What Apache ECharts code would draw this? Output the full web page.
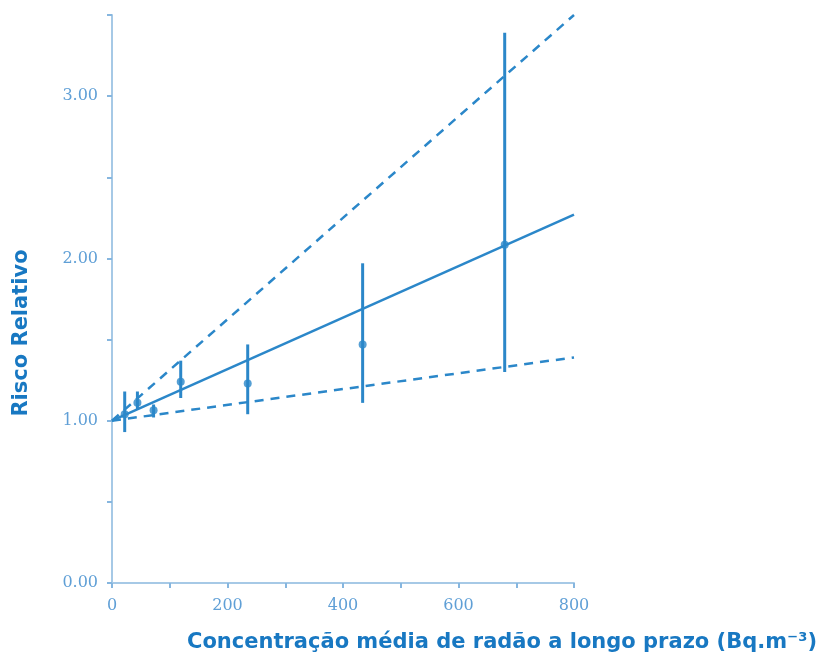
<!DOCTYPE html>
<html>
<head>
<meta charset="utf-8">
<script src="https://cdn.jsdelivr.net/npm/echarts@6/dist/echarts.min.js"></script>
<style>html,body{margin:0;padding:0;background:#fff;}#c{width:824px;height:662px;}</style>
</head>
<body>
<div id="c"></div>
<script>
// Data
var concentration = [22, 44, 72, 119, 235, 434, 680];
var riskPoint     = [1.04, 1.11, 1.065, 1.24, 1.23, 1.47, 2.085];
var riskLow       = [0.93, 1.07, 1.02, 1.14, 1.04, 1.11, 1.30];
var riskHigh      = [1.18, 1.18, 1.10, 1.37, 1.47, 1.97, 3.39];
var fitX          = [0, 800];
var fitCentral    = [1.00, 2.27];
var fitUpper      = [1.00, 3.50];
var fitLower      = [1.00, 1.39];
var xTickLabels   = [0, 200, 400, 600, 800];
var yTickLabels   = ['0.00', '1.00', '2.00', '3.00'];
var xTitle = 'Concentração média de radão a longo prazo (Bq.m⁻³)';
var yTitle = 'Risco Relativo';

var blue = '#2b87c9';
var axisBlue = '#a6c9e6';
var labelBlue = '#5f9fd6';

function pairs(xs, ys) { return xs.map(function (x, i) { return [x, ys[i]]; }); }

var chart = echarts.init(document.getElementById('c'));
chart.setOption({
  animation: false,
  grid: { left: 112, right: 250, top: 15, bottom: 79 },
  xAxis: {
    type: 'value', min: 0, max: 800, interval: 100,
    axisLine: { show: true, lineStyle: { color: axisBlue, width: 2 } },
    axisTick: { show: true, length: 5, lineStyle: { color: '#86b6df', width: 2 } },
    splitLine: { show: false },
    axisLabel: {
      margin: 15, color: labelBlue, fontFamily: 'DejaVu Serif', fontSize: 16,
      formatter: function (v) { return xTickLabels.indexOf(v) >= 0 ? String(v) : ''; }
    }
  },
  yAxis: {
    type: 'value', min: 0, max: 3.5, interval: 0.5,
    axisLine: { show: true, lineStyle: { color: axisBlue, width: 2 } },
    axisTick: { show: true, length: 5, lineStyle: { color: '#86b6df', width: 2 } },
    splitLine: { show: false },
    axisLabel: {
      margin: 14, color: labelBlue, fontFamily: 'DejaVu Serif', fontSize: 16,
      formatter: function (v) {
        var s = v.toFixed(2);
        return yTickLabels.indexOf(s) >= 0 ? s : '';
      }
    }
  },
  graphic: [
    { type: 'text', x: 502, y: 643, style: { text: xTitle, fill: '#1878c2', font: 'bold 21px "DejaVu Sans"', textAlign: 'center', textVerticalAlign: 'middle' } },
    { type: 'text', x: 22, y: 333, rotation: Math.PI / 2, style: { text: yTitle, fill: '#1878c2', font: 'bold 21px "DejaVu Sans"', textAlign: 'center', textVerticalAlign: 'middle' } }
  ],
  series: [
    { type: 'line', data: pairs(fitX, fitUpper), symbol: 'none', lineStyle: { color: blue, width: 2.5, type: [9, 7] }, z: 2 },
    { type: 'line', data: pairs(fitX, fitLower), symbol: 'none', lineStyle: { color: blue, width: 2.5, type: [9, 7] }, z: 2 },
    { type: 'line', data: pairs(fitX, fitCentral), symbol: 'none', lineStyle: { color: blue, width: 2.5 }, z: 3 },
    {
      type: 'custom',
      data: concentration.map(function (x, i) { return [x, riskLow[i], riskHigh[i]]; }),
      renderItem: function (params, api) {
        var a = api.coord([api.value(0), api.value(1)]);
        var b = api.coord([api.value(0), api.value(2)]);
        return { type: 'line', shape: { x1: a[0], y1: a[1], x2: b[0], y2: b[1] }, style: { stroke: blue, lineWidth: 3 } };
      },
      z: 4
    },
    { type: 'scatter', data: pairs(concentration, riskPoint), symbol: 'circle', symbolSize: 8, itemStyle: { color: blue }, z: 5 }
  ]
});
</script>
</body>
</html>
